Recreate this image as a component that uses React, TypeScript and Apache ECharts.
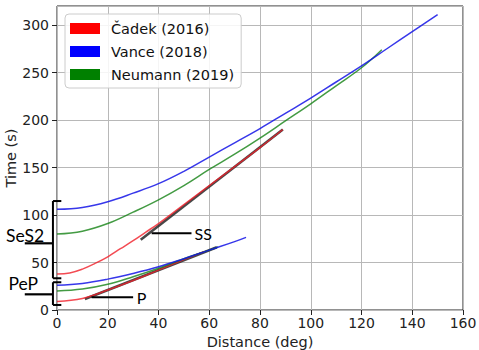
import React, { useEffect, useRef } from "react";
import * as echarts from "echarts";

// Travel-time curves (distance in deg, time in s)
const cadekP = [[0, 9], [10, 12], [20, 21], [30, 31], [40, 42], [50, 53], [58, 61.5]];
const cadekS = [[0, 38], [5, 39], [10, 43], [15, 49], [20, 56], [25, 64.5], [30, 73], [35, 82], [40, 91], [50, 111], [60, 131], [70, 151], [80, 171], [89, 190]];
const vanceP = [[0, 26], [10, 28], [20, 32.5], [30, 38.5], [40, 45.5], [50, 54], [60, 63], [70, 72], [74.5, 76.5]];
const vanceS = [[0, 106], [10, 108], [20, 114], [30, 123], [40, 133], [50, 146], [60, 161], [70, 176], [80, 191], [90, 207], [100, 223], [110, 240], [120, 257], [130, 275], [140, 293], [150, 311]];
const neumannP = [[0, 20], [10, 22], [20, 27], [30, 35], [40, 44], [50, 54], [60, 63], [63.5, 66.5]];
const neumannS = [[0, 80], [10, 83], [20, 91], [30, 103], [40, 116], [50, 131], [60, 148], [70, 164], [80, 181], [90, 199], [100, 217], [110, 236], [120, 255], [128, 274]];

// Straight reference phases
const ssLine = [[33, 74], [89, 190]];
const pLine = [[11, 11.5], [63, 66]];

const legendNames = ["Čadek (2016)", "Vance (2018)", "Neumann (2019)"];
const legendColors = ["#ff0000", "#0000ff", "#008000"];
const lineColors = ["rgba(240,30,40,0.8)", "rgba(20,20,230,0.85)", "rgba(20,130,20,0.8)"];

// Annotations in data coordinates
const ssPointer = { from: [37.3, 80.7], to: [53, 80.7], label: "SS", at: [54.2, 80.7] };
const pPointer = { from: [13.6, 13.4], to: [30, 13.4], label: "P", at: [31.4, 13.4] };
const brackets = [
  { label: "SeS2", x: -1.6, serif: 1.7, lo: 33.4, hi: 114.7, mid: 70.2, tickEnd: -12.7, labelAt: [-12.6, 78.5] },
  { label: "PeP", x: -1.6, serif: 1.7, lo: 5.3, hi: 29.2, mid: 16.5, tickEnd: -12.7, labelAt: [-13.3, 28.3] },
];

const FONT = "DejaVu Sans";
const ANN_FONT = "Lato";

export default function App() {
  const ref = useRef<HTMLDivElement>(null);
  useEffect(() => {
    const chart = echarts.init(ref.current!, null, { renderer: "svg" });
    const mk = (name: string, data: number[][], i: number) => ({
      name,
      type: "line",
      data,
      showSymbol: false,
      symbol: "none",
      smooth: 0.4,
      z: 3,
      itemStyle: { color: legendColors[i] },
      lineStyle: { color: lineColors[i], width: 1.5 },
    });
    const ref2 = (data: number[][]) => ({
      name: "ref",
      type: "line",
      data,
      showSymbol: false,
      symbol: "none",
      z: 2,
      itemStyle: { color: "#333" },
      lineStyle: { color: "rgba(40,40,40,0.85)", width: 2.6 },
    });
    const option: any = {
      animation: false,
      grid: { left: 57, right: 16, top: 6, bottom: 40, show: true, borderColor: "#222", borderWidth: 1, outerBoundsMode: "none", containLabel: false },
      legend: {
        data: legendNames.map((n, i) => ({ name: n, icon: "rect", itemStyle: { color: legendColors[i], borderWidth: 0 } })),
        orient: "vertical",
        left: 65,
        top: 14,
        itemWidth: 30,
        itemHeight: 11,
        itemGap: 8,
        padding: [7, 7, 6, 5],
        backgroundColor: "rgba(255,255,255,0.85)",
        borderColor: "#cccccc",
        borderWidth: 1,
        borderRadius: 4,
        selectedMode: false,
        textStyle: { fontFamily: FONT, fontSize: 14.5, color: "#111", lineHeight: 14, padding: [0, 0, 0, 6] },
        z: 10,
      },
      xAxis: {
        type: "value",
        min: 0,
        max: 160,
        interval: 20,
        name: "Distance (deg)",
        nameLocation: "middle",
        nameGap: 24,
        nameTextStyle: { fontFamily: FONT, fontSize: 14.5, color: "#222" },
        axisLine: { show: false },
        axisTick: { show: true, length: 5, lineStyle: { color: "#222" } },
        axisLabel: { fontFamily: FONT, fontSize: 14, color: "#222", margin: 6 },
        splitLine: { show: true, lineStyle: { color: "#b8b8b8", width: 1 } },
      },
      yAxis: {
        type: "value",
        min: 0,
        max: 320,
        interval: 50,
        name: "Time (s)",
        nameLocation: "middle",
        nameGap: 39,
        nameMoveOverlap: false,
        nameTextStyle: { fontFamily: FONT, fontSize: 14.5, color: "#222" },
        axisLine: { show: false },
        axisTick: { show: true, length: 5, lineStyle: { color: "#222" } },
        axisLabel: { fontFamily: FONT, fontSize: 14, color: "#222", margin: 8, showMaxLabel: false },
        splitLine: { show: true, lineStyle: { color: "#b8b8b8", width: 1 } },
      },
      series: [
        ref2(ssLine),
        ref2(pLine),
        mk(legendNames[0], cadekP, 0),
        mk(legendNames[0], cadekS, 0),
        mk(legendNames[2], neumannP, 2),
        mk(legendNames[2], neumannS, 2),
        mk(legendNames[1], vanceP, 1),
        mk(legendNames[1], vanceS, 1),
      ],
    };
    chart.setOption(option);

    const px = (p: number[]) => chart.convertToPixel({ gridIndex: 0 } as any, p) as number[];
    const line = (a: number[], b: number[], w = 2) => {
      const pa = px(a), pb = px(b);
      return { type: "line", z: 20, shape: { x1: pa[0], y1: pa[1], x2: pb[0], y2: pb[1] }, style: { stroke: "#000", lineWidth: w } };
    };
    const text = (t: string, at: number[], size: number, align: string) => {
      const p = px(at);
      return {
        type: "text", z: 20, x: p[0], y: p[1],
        style: { text: t, fill: "#000", fontFamily: ANN_FONT, fontSize: size, align, verticalAlign: "middle", textAlign: align, textVerticalAlign: "middle" },
      };
    };
    const els: any[] = [];
    for (const ptr of [ssPointer, pPointer]) {
      els.push(line(ptr.from, ptr.to, 2));
      els.push(text(ptr.label, ptr.at, 16, "left"));
    }
    for (const b of brackets) {
      els.push(line([b.x, b.lo], [b.x, b.hi], 2));
      els.push(line([b.x, b.hi], [b.serif, b.hi], 2));
      els.push(line([b.x, b.lo], [b.serif, b.lo], 2));
      els.push(line([b.tickEnd, b.mid], [b.x, b.mid], 2.2));
      els.push(text(b.label, b.labelAt, 17.5, "center"));
    }
    chart.setOption({ graphic: els });
    return () => chart.dispose();
  }, []);
  return <div ref={ref} style={{ position: "absolute", left: 0, top: 0, width: 479, height: 350, background: "#fff" }} />;
}
